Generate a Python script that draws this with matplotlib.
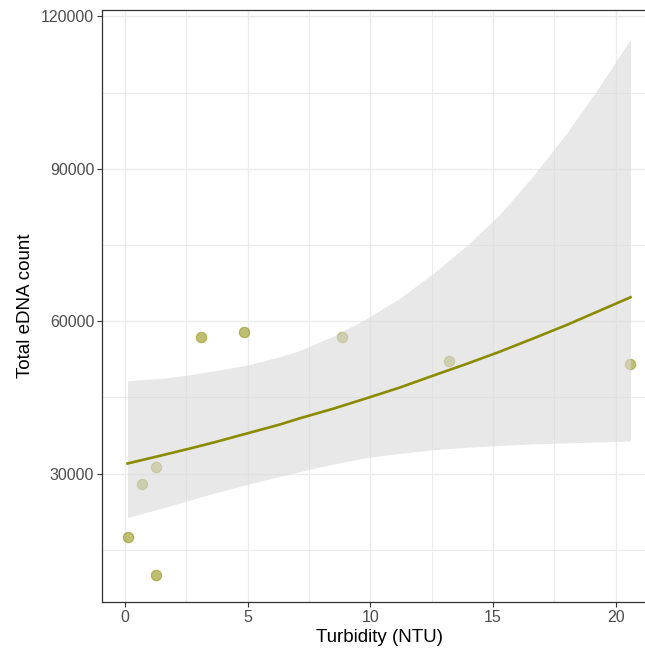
import numpy as np
import matplotlib
matplotlib.use("Agg")
import matplotlib.pyplot as plt
from matplotlib.ticker import MultipleLocator

plt.rcParams["font.family"] = ["Liberation Sans", "DejaVu Sans"]

# -----------------------------
# data
# -----------------------------
turbidity = [0.11, 0.70, 1.29, 1.25, 3.12, 4.85, 8.84, 13.22, 20.6]
edna_count = [17480, 27940, 31310, 10000, 56850, 57830, 56850, 52130, 51600]

# fitted curve and confidence band
fit_x = [0.11, 1.5, 2.65, 3.67, 5.0, 6.3, 7.13, 8.5, 9.84, 11.2,
         12.56, 13.92, 15.27, 16.63, 17.99, 19.35, 20.6]
fit_y = [32000, 33600, 34950, 36200, 37950, 39650, 40900, 42800, 44840, 46950,
         49300, 51600, 54000, 56600, 59250, 62100, 64720]
fit_lo = [21350, 23200, 24800, 26200, 27900, 29450, 30400, 31900, 33150, 34000,
          34700, 35200, 35550, 35850, 36060, 36250, 36450]
fit_hi = [48300, 48750, 49500, 50250, 51400, 53000, 54250, 57100, 60500, 64500,
          69430, 74850, 81000, 88600, 96950, 106300, 115500]

x_ticks = [0, 5, 10, 15, 20]
y_ticks = [30000, 60000, 90000, 120000]

olive = "#8B8B00"

fig = plt.figure(figsize=(6.45, 6.57), dpi=100)
ax = fig.add_axes([0.1589, 0.0842, 0.8574, 0.9011])

# points (under the ribbon, like geom_point + geom_smooth)
ax.plot(turbidity, edna_count, linestyle="none", marker="o", markersize=7.5,
        markerfacecolor=olive, markeredgecolor=olive, markeredgewidth=0.8,
        alpha=0.55, zorder=2)

# confidence band
ax.fill_between(fit_x, fit_lo, fit_hi, color="#D9D9D9", alpha=0.6,
                linewidth=0, zorder=3)

# fitted line
ax.plot(fit_x, fit_y, color=olive, linewidth=1.9, zorder=4)

# axes
ax.set_xlim(-0.91, 21.62)
ax.set_ylim(4800, 121340)
ax.set_xticks(x_ticks)
ax.set_yticks(y_ticks)
ax.xaxis.set_minor_locator(MultipleLocator(2.5))
ax.yaxis.set_minor_locator(MultipleLocator(15000))

ax.grid(which="major", color="#EBEBEB", linewidth=1.0, zorder=0)
ax.grid(which="minor", color="#EBEBEB", linewidth=0.7, zorder=0)
ax.set_axisbelow(True)

ax.tick_params(which="major", direction="out", length=3.5, width=0.8,
               color="#333333", labelsize=11.5, labelcolor="#4D4D4D", pad=2.5)
ax.tick_params(which="minor", length=0)

for side in ["left", "bottom", "top", "right"]:
    ax.spines[side].set_color("#333333")
    ax.spines[side].set_linewidth(0.9)

ax.set_xlabel("Turbidity (NTU)", fontsize=13.5, color="black", labelpad=3)
ax.set_ylabel("Total eDNA count", fontsize=13.5, color="black", labelpad=5)

fig.patch.set_facecolor("white")
ax.set_facecolor("white")

plt.savefig("out.png", dpi=100)
plt.close()
